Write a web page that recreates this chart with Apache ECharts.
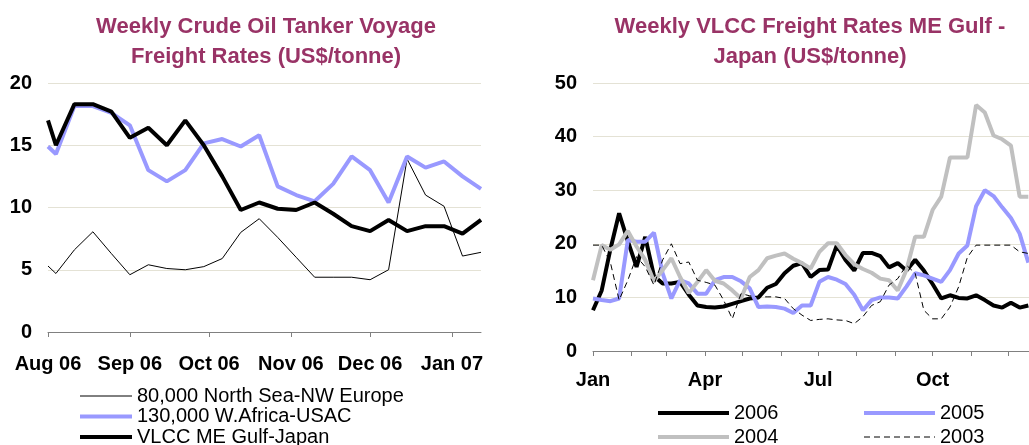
<!DOCTYPE html>
<html>
<head>
<meta charset="utf-8">
<script src="https://cdn.jsdelivr.net/npm/echarts@6/dist/echarts.min.js"></script>
<style>
  html, body { margin: 0; padding: 0; background: #ffffff; overflow: hidden; }
  /* the year-on-year panel runs on past the right edge of the page */
  #chart { width: 1050px; height: 480px; }
</style>
</head>
<body>
<div id="chart"></div>
<script>
// ---- Left panel: weekly crude tanker voyage rates (US$/tonne) ----
const voyageDates = [
  '2006-08-01', '2006-08-04', '2006-08-11', '2006-08-18', '2006-08-25',
  '2006-09-01', '2006-09-08', '2006-09-15', '2006-09-22', '2006-09-29',
  '2006-10-06', '2006-10-13', '2006-10-20', '2006-10-27',
  '2006-11-03', '2006-11-10', '2006-11-17', '2006-11-24',
  '2006-12-01', '2006-12-08', '2006-12-15', '2006-12-22', '2006-12-29',
  '2007-01-05', '2007-01-12'
];
const northSeaNWEurope = [5.3, 4.7, 6.6, 8.05, 6.3, 4.6, 5.4, 5.1, 5.0, 5.25, 5.9, 8.0, 9.1,
  7.6, 6.0, 4.4, 4.4, 4.4, 4.2, 5.0, 13.9, 11.0, 10.1, 6.1, 6.4];
const wAfricaUSAC = [14.9, 14.3, 18.15, 18.15, 17.6, 16.6, 13.0, 12.1, 13.0, 15.15, 15.5, 14.9, 15.8,
  11.7, 11.0, 10.5, 11.9, 14.1, 13.0, 10.4, 14.1, 13.2, 13.7, 12.5, 11.5];
const vlccGulfJapan = [17.0, 15.0, 18.3, 18.3, 17.7, 15.6, 16.4, 15.0, 17.0, 15.0, 12.5, 9.8, 10.4,
  9.9, 9.8, 10.4, 9.5, 8.5, 8.1, 9.0, 8.1, 8.5, 8.5, 7.9, 9.0];
const voyageMonthTicks = ['2006-08-01', '2006-09-01', '2006-10-01', '2006-11-01', '2006-12-01', '2007-01-01'];
const voyageMonthLabels = ['Aug 06', 'Sep 06', 'Oct 06', 'Nov 06', 'Dec 06', 'Jan 07'];

// ---- Right panel: weekly VLCC ME Gulf - Japan rates by year (US$/tonne) ----
const seasonStart = '2006-01-01';   // weeks are laid on a common calendar year
const vlcc2006 = [7.6, 11.3, 19.0, 25.7, 20.5, 15.7, 21.3, 14.0, 12.6, 12.6,
  12.9, 10.5, 8.5, 8.2, 8.1, 8.3, 8.8, 9.3, 9.8, 10.0,
  11.8, 12.5, 14.5, 15.9, 16.4, 13.8, 15.1, 15.2, 19.7, 17.0,
  15.0, 18.3, 18.3, 17.7, 15.6, 16.4, 15.0, 17.0, 15.0, 12.5,
  9.8, 10.4, 9.9, 9.8, 10.4, 9.5, 8.5, 8.1, 9.0, 8.1, 8.5];
const vlcc2005 = [9.8, 9.5, 9.3, 9.8, 20.7, 20.4, 20.4, 22.1, 14.5, 9.8,
  13.2, 12.6, 10.7, 10.7, 13.2, 13.8, 13.8, 13.0, 11.7, 8.2,
  8.3, 8.2, 7.9, 7.1, 8.5, 8.5, 12.9, 13.8, 13.3, 12.5,
  10.5, 7.6, 9.5, 10.0, 10.0, 9.8, 12.0, 14.5, 14.1, 13.5,
  12.9, 15.1, 18.2, 19.7, 27.0, 30.0, 28.9, 26.8, 24.8, 21.9, 16.5];
const vlcc2004 = [13.2, 19.75, 18.9, 19.9, 22.4, 19.5, 17.0, 13.0, 15.1, 17.3,
  13.8, 10.8, 12.9, 15.1, 13.1, 12.6, 11.3, 9.8, 13.8, 15.1,
  17.3, 17.8, 18.2, 17.2, 16.4, 15.4, 18.5, 20.1, 20.1, 17.9,
  16.2, 15.3, 14.6, 13.5, 13.2, 11.3, 15.1, 21.3, 21.3, 26.3,
  28.8, 36.1, 36.1, 36.1, 45.9, 44.5, 40.2, 39.5, 38.3, 28.8, 28.8];
const vlcc2003 = [19.75, 19.75, 16.5, 9.5, 13.2, 17.6, 15.7, 12.3, 17.0, 20.0,
  16.3, 16.6, 13.2, 12.8, 12.3, 9.5, 6.0, 10.7, 10.3, 10.1,
  10.1, 10.1, 9.8, 7.9, 6.7, 5.7, 5.9, 6.0, 5.8, 5.7,
  5.1, 6.4, 8.5, 9.2, 12.3, 13.5, 16.0, 14.5, 7.6, 6.0,
  6.0, 8.2, 12.0, 17.5, 19.75, 19.75, 19.75, 19.75, 19.75, 18.5, 18.2];
const seasonMonthTicks = ['2006-01-01', '2006-02-01', '2006-03-01', '2006-04-01', '2006-05-01', '2006-06-01',
  '2006-07-01', '2006-08-01', '2006-09-01', '2006-10-01', '2006-11-01', '2006-12-01'];
const seasonLabelTicks = ['2006-01-01', '2006-04-01', '2006-07-01', '2006-10-01'];
const seasonLabels = ['Jan', 'Apr', 'Jul', 'Oct'];

// ---- helpers: dates become day numbers on a linear axis ----
const DAY = 24 * 3600 * 1000;
function dayNum(s) {
  const p = s.split('-').map(Number);
  return Math.round(Date.UTC(p[0], p[1] - 1, p[2]) / DAY);
}
function weekly(values) {
  const d0 = dayNum(seasonStart);
  return values.map((v, i) => [d0 + i * 7, v]);
}
function dated(dates, values) {
  return dates.map((d, i) => [dayNum(d), values[i]]);
}

const FONT = '"Liberation Sans", Arial, sans-serif';
const TITLE_COLOR = '#993366';
const GRID_COLOR = '#e4e2d5';
const AXIS_COLOR = '#808080';

// line look of each series, shared by the plot and its legend entry
const LOOK = {
  '80,000 North Sea-NW Europe': { color: '#000000', width: 1, type: 'solid' },
  '130,000 W.Africa-USAC': { color: '#9999ff', width: 4, type: 'solid' },
  'VLCC ME Gulf-Japan': { color: '#000000', width: 4, type: 'solid' },
  '2006': { color: '#000000', width: 4, type: 'solid' },
  '2005': { color: '#9999ff', width: 4, type: 'solid' },
  '2004': { color: '#c0c0c0', width: 4, type: 'solid' },
  '2003': { color: '#000000', width: 1, type: [6, 4] }
};

const voyageTickDays = voyageMonthTicks.map(dayNum);
const seasonTickDays = seasonMonthTicks.map(dayNum);
const seasonLabelDays = seasonLabelTicks.map(dayNum);

function yAxisCommon(max, interval, gridIndex) {
  return {
    type: 'value', gridIndex, min: 0, max, interval,
    axisLine: { show: false }, axisTick: { show: false },
    axisLabel: { color: '#000', fontFamily: FONT, fontWeight: 'bold', fontSize: 20, margin: 16 },
    splitLine: { show: true, lineStyle: { color: GRID_COLOR, width: 1 } }
  };
}

function dateAxis(gridIndex, minDay, maxDay, tickDays, labelDays, labels, margin) {
  return {
    type: 'value', gridIndex, min: minDay, max: maxDay,
    axisLine: { show: true, onZero: false, lineStyle: { color: AXIS_COLOR, width: 1 } },
    axisTick: { show: true, length: 5, customValues: tickDays, lineStyle: { color: AXIS_COLOR } },
    axisLabel: {
      customValues: labelDays,
      formatter: v => { const k = labelDays.indexOf(v); return k >= 0 ? labels[k] : ''; },
      color: '#000', fontFamily: FONT, fontWeight: 'bold', fontSize: 20, margin
    },
    splitLine: { show: false }
  };
}

function legendBox(left, top, names, iconWidth, lineHeight, gap) {
  return {
    orient: 'vertical', left, top, padding: 0, itemGap: gap,
    itemWidth: iconWidth, itemHeight: 9,
    itemStyle: { opacity: 0 },
    data: names.map(n => ({
      name: n,
      lineStyle: { color: LOOK[n].color, width: LOOK[n].width, type: LOOK[n].type }
    })),
    textStyle: { fontFamily: FONT, fontSize: 20, color: '#000', lineHeight }
  };
}

function lineSeries(name, axis, data) {
  return {
    name, type: 'line', xAxisIndex: axis, yAxisIndex: axis, data, symbol: 'none',
    lineStyle: { color: LOOK[name].color, width: LOOK[name].width, type: LOOK[name].type },
    itemStyle: { color: LOOK[name].color }
  };
}

const chart = echarts.init(document.getElementById('chart'), null, { renderer: 'canvas' });

chart.setOption({
  animation: false,
  backgroundColor: '#ffffff',
  title: [
    {
      text: 'Weekly Crude Oil Tanker Voyage\nFreight Rates (US$/tonne)',
      left: 261, top: 7, textAlign: 'center',
      textStyle: { fontFamily: FONT, fontSize: 22, fontWeight: 'bold', color: TITLE_COLOR, lineHeight: 30 }
    },
    {
      text: 'Weekly VLCC Freight Rates ME Gulf -\nJapan (US$/tonne)',
      left: 805, top: 7, textAlign: 'center',
      textStyle: { fontFamily: FONT, fontSize: 22, fontWeight: 'bold', color: TITLE_COLOR, lineHeight: 30 }
    }
  ],
  legend: [
    legendBox(78, 386, ['80,000 North Sea-NW Europe', '130,000 W.Africa-USAC', 'VLCC ME Gulf-Japan'], 52, 19, 0.5),
    legendBox(656, 403, ['2006', '2004'], 71, 20, 4),
    legendBox(862, 403, ['2005', '2003'], 71, 20, 4)
  ],
  grid: [
    { left: 48, top: 83, width: 433, height: 249, containLabel: false },
    { left: 593, top: 83, width: 454, height: 268, containLabel: false }
  ],
  xAxis: [
    dateAxis(0, dayNum('2006-08-01'), dayNum('2007-01-12'), voyageTickDays, voyageTickDays, voyageMonthLabels, 22),
    dateAxis(1, dayNum('2006-01-01'), dayNum('2007-01-01'), seasonTickDays, seasonLabelDays, seasonLabels, 19)
  ],
  yAxis: [yAxisCommon(20, 5, 0), yAxisCommon(50, 10, 1)],
  series: [
    lineSeries('80,000 North Sea-NW Europe', 0, dated(voyageDates, northSeaNWEurope)),
    lineSeries('130,000 W.Africa-USAC', 0, dated(voyageDates, wAfricaUSAC)),
    lineSeries('VLCC ME Gulf-Japan', 0, dated(voyageDates, vlccGulfJapan)),
    lineSeries('2006', 1, weekly(vlcc2006)),
    lineSeries('2005', 1, weekly(vlcc2005)),
    lineSeries('2004', 1, weekly(vlcc2004)),
    lineSeries('2003', 1, weekly(vlcc2003))
  ]
});
</script>
</body>
</html>
